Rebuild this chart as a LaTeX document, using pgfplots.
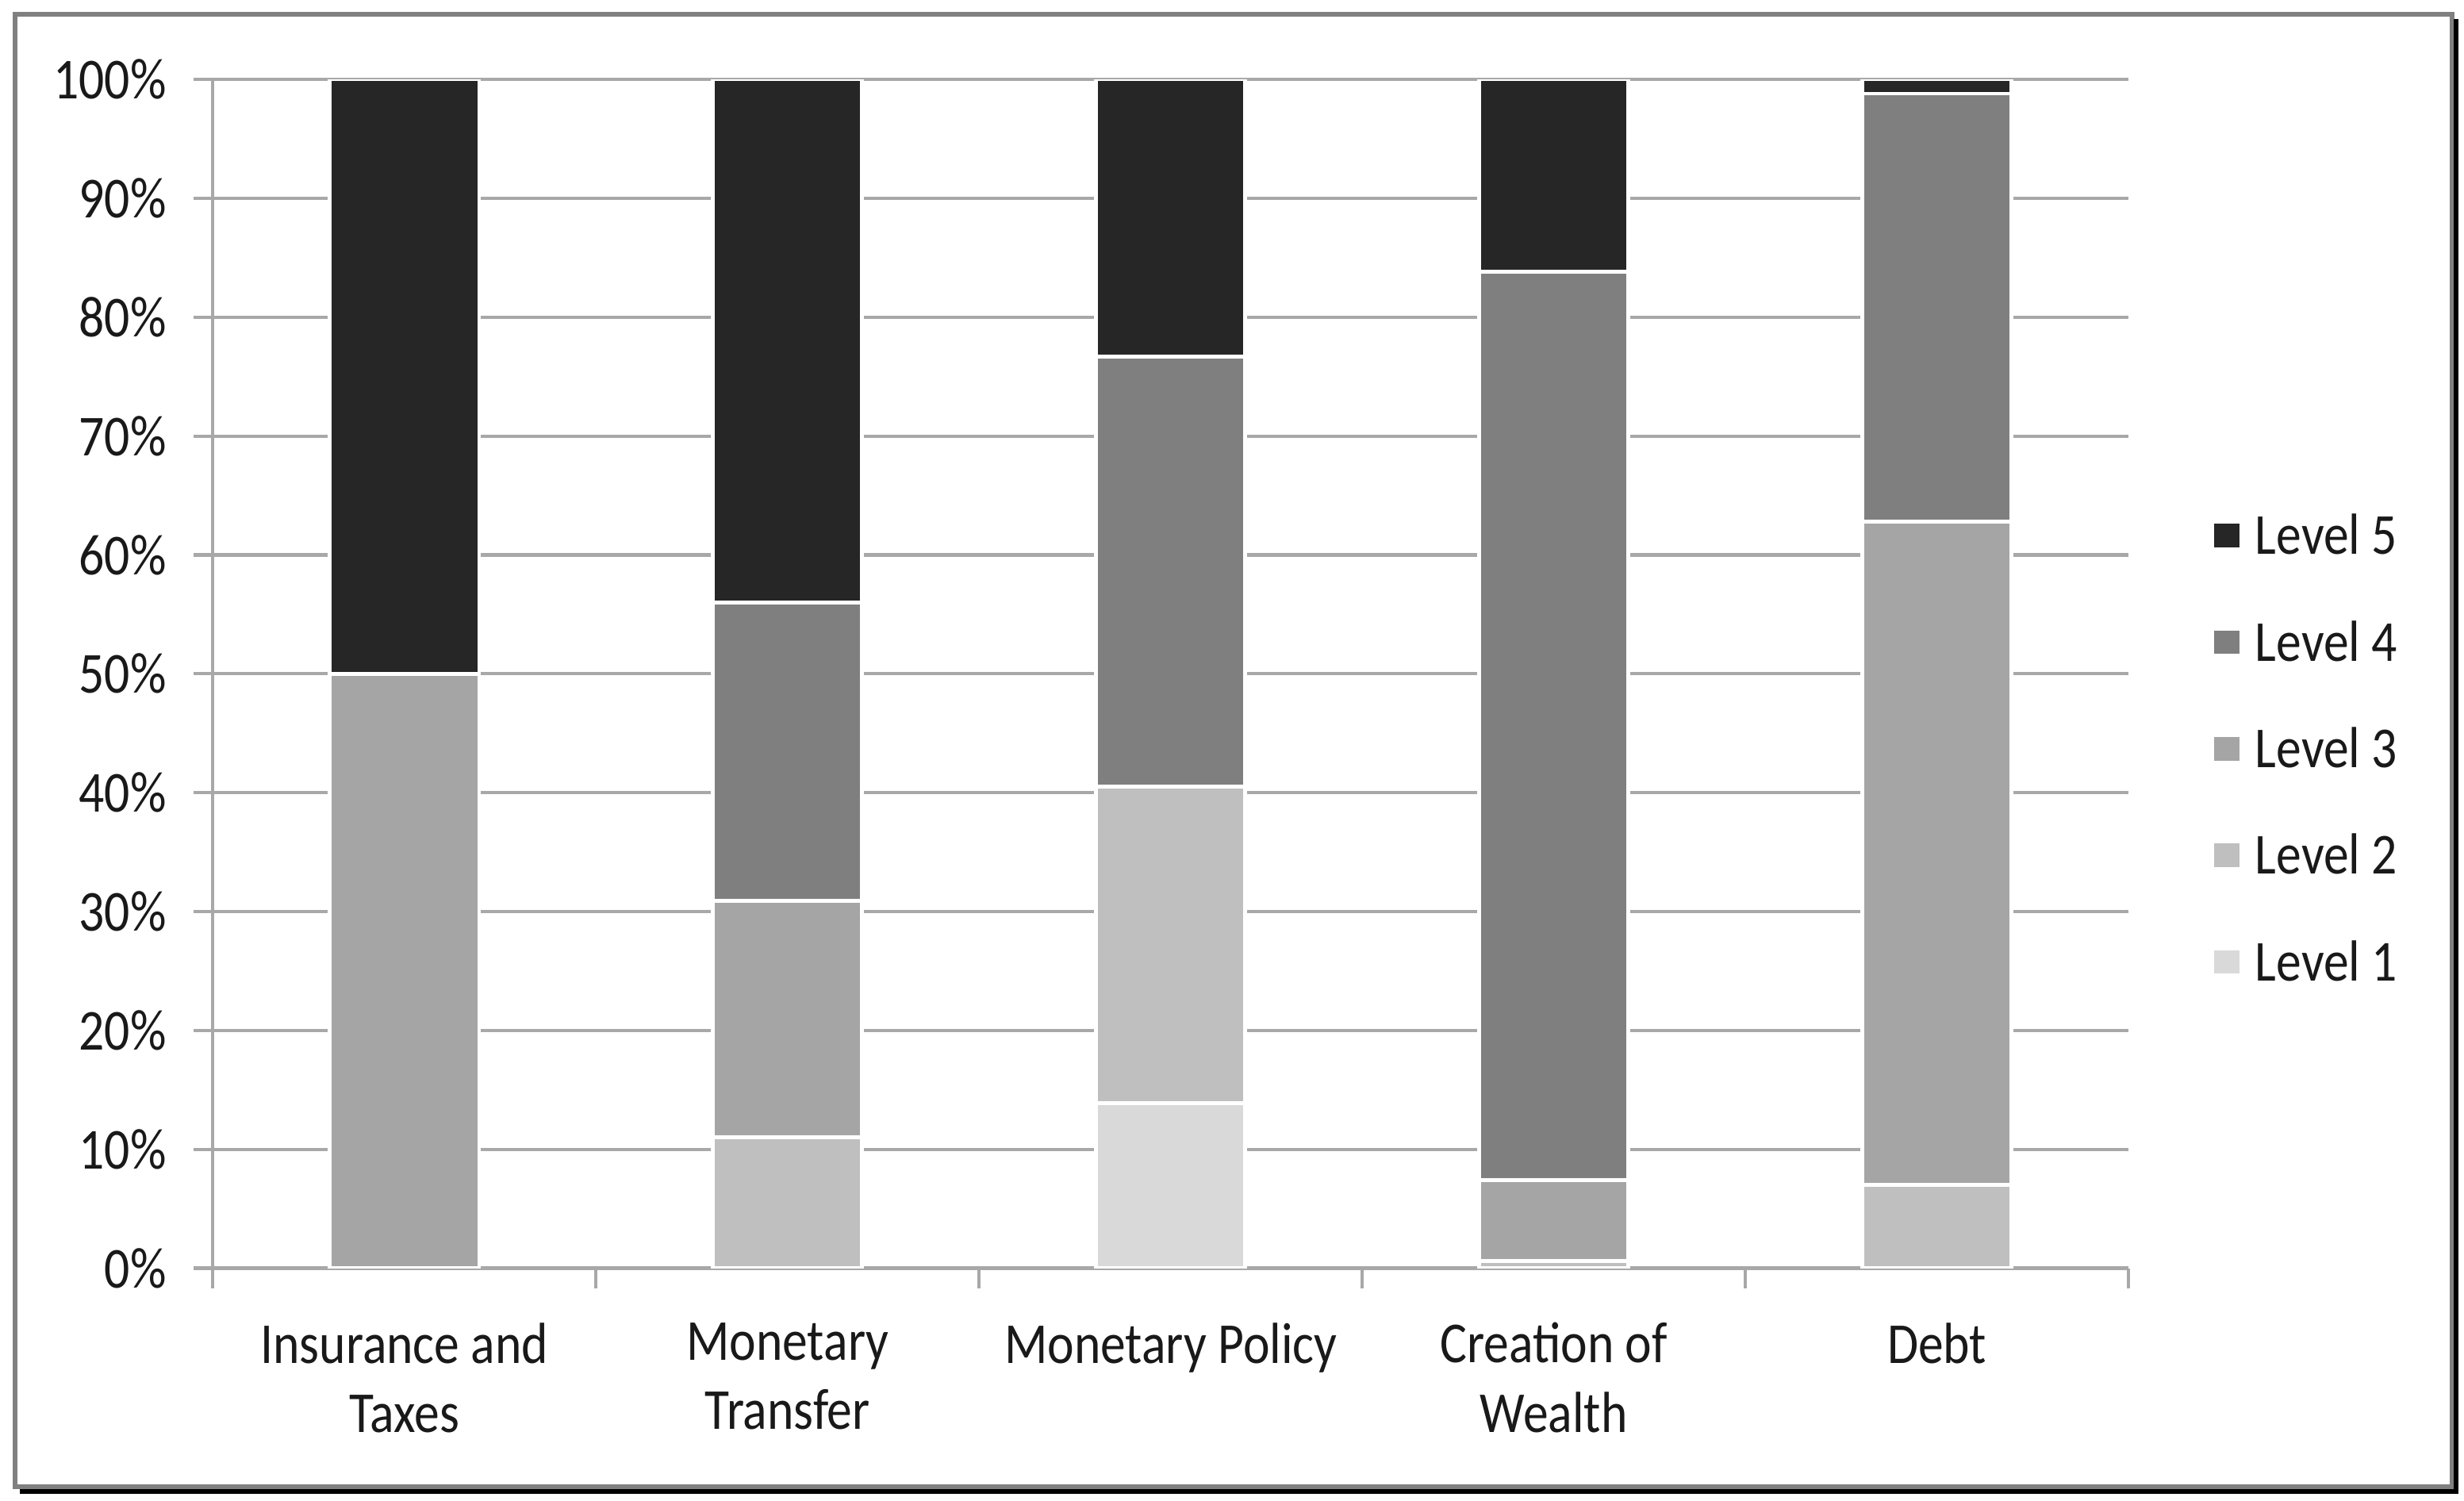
\documentclass[border=0pt]{standalone}
\usepackage{fontspec}
\setmainfont{Carlito}[FakeStretch=0.87]
\usepackage{pgfplots}
\pgfplotsset{compat=1.18}

\definecolor{lvA}{HTML}{D9D9D9}
\definecolor{lvB}{HTML}{BFBFBF}
\definecolor{lvC}{HTML}{A5A5A5}
\definecolor{lvD}{HTML}{7F7F7F}
\definecolor{lvE}{HTML}{262626}
\definecolor{gridc}{HTML}{A8A8A8}
\definecolor{framec}{HTML}{808080}

\begin{document}
\fontsize{10.5}{12.6}\selectfont
\begin{tikzpicture}
\useasboundingbox (-1.355,-1.48) rectangle (14.325,8.07);
\begin{axis}[
  at={(0,0)}, anchor=south west,
  scale only axis, width=12.19cm, height=7.565cm,
  ybar stacked, bar width=0.95cm,
  xmin=-0.5, xmax=4.5, ymin=0, ymax=100,
  axis lines*=left,
  axis line style={gridc, line width=0.6pt},
  tick align=outside,
  major tick length=0.125cm, minor tick length=0.13cm,
  tick style={gridc, line width=0.6pt},
  xtick={0,1,2,3,4},
  xticklabels={{Insurance and\\Taxes}, {Monetary\\Transfer}, {Monetary Policy}, {Creation of\\Wealth}, {Debt}},
  major x tick style={draw=none},
  minor xtick={-0.5,0.5,1.5,2.5,3.5,4.5},
  ytick={0,10,...,100},
  yticklabels={0\%,10\%,20\%,30\%,40\%,50\%,60\%,70\%,80\%,90\%,100\%},
  ymajorgrids, grid style={gridc, line width=0.6pt},
  xticklabel style={align=center, anchor=north, inner sep=0pt, yshift=-0.215cm},
  yticklabel style={anchor=east, inner sep=0pt, xshift=-0.165cm},
  every tick label/.append style={font=\fontsize{10.5}{12.6}\selectfont, text=black!90},
  legend style={at={(1.0443,0.633)}, anchor=north west, draw=none, fill=none,
    inner sep=0pt, row sep=12.5pt, column sep=0.1cm,
    nodes={inner sep=0pt, text height=6.8pt, text depth=0pt, text=black!90},
    font=\fontsize{10.5}{12.6}\selectfont},
  legend cell align=left,
  reverse legend,
  every axis plot post/.append style={draw=white, line width=0.7pt,
    legend image code/.code={\fill[#1, draw=none] (0cm,-0.075cm) rectangle (0.16cm,0.075cm);}},
]
\addplot[fill=lvA] coordinates {(0,0) (1,0) (2,13.9) (3,0) (4,0)};
\addplot[fill=lvB] coordinates {(0,0) (1,11.0) (2,26.6) (3,0.6) (4,7.0)};
\addplot[fill=lvC] coordinates {(0,50.0) (1,19.9) (2,0) (3,6.8) (4,55.8)};
\addplot[fill=lvD] coordinates {(0,0) (1,25.1) (2,36.2) (3,76.4) (4,36.0)};
\addplot[fill=lvE] coordinates {(0,50.0) (1,44.0) (2,23.3) (3,16.2) (4,1.2)};
\legend{Level 1, Level 2, Level 3, Level 4, Level 5}
\end{axis}
\draw[framec, line width=0.85pt] (-1.259,-1.392) rectangle (14.25,7.979);
\draw[black, line width=0.85pt] (14.274,7.95) -- (14.274,-1.42) -- (-1.23,-1.42);
\end{tikzpicture}
\end{document}
